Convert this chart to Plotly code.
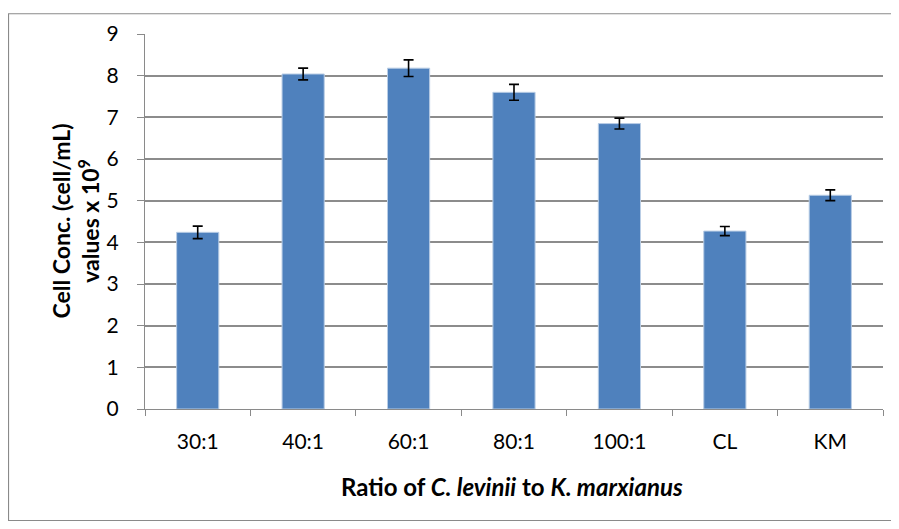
import plotly.graph_objects as go

categories = ["30:1", "40:1", "60:1", "80:1", "100:1", "CL", "KM"]
values = [4.24, 8.04, 8.18, 7.60, 6.85, 4.27, 5.13]
errors = [0.15, 0.14, 0.20, 0.19, 0.13, 0.11, 0.13]
y_ticks = list(range(0, 10))

FONT = "Lato, sans-serif"

L, T, PW, PH = 137, 21, 738, 380

fig = go.Figure()
fig.add_trace(go.Bar(
    x=categories, y=values,
    marker=dict(color="#4F81BD", line=dict(color="#B9CDE5", width=1)),
    width=0.4,
    error_y=dict(type="data", array=errors, visible=True, color="black", thickness=1.6, width=5),
))

fig.update_layout(
    width=891, height=521,
    paper_bgcolor="white", plot_bgcolor="white",
    margin=dict(l=L, r=16, t=T, b=120),
    showlegend=False,
    font=dict(family=FONT, size=21, color="black"),
    shapes=[dict(type="rect", xref="paper", yref="paper",
                 x0=-(L - 0.5) / PW, x1=1 + 9 / PW, y0=-113 / PH, y1=1 + 20.5 / PH,
                 line=dict(color="#8a8a8a", width=1.2))],
    annotations=[
        dict(text="<b>Ratio of <i>C. levinii</i> to <i>K. marxianus</i></b>",
             xref="paper", yref="paper", x=0.497, y=-79 / PH, xanchor="center", yanchor="middle",
             showarrow=False, font=dict(size=24, family=FONT)),
        dict(text="<b>Cell Conc. (cell/mL)<br>values x 10<sup>9</sup></b>",
             xref="paper", yref="paper", x=-70 / PW, y=0.5, xanchor="center", yanchor="middle",
             textangle=-90, showarrow=False, font=dict(size=23, family=FONT)),
    ],
)

fig.update_xaxes(
    type="category", showline=True, linecolor="#8a8a8a", linewidth=1.2,
    ticks="outside", tickson="boundaries", ticklen=6, tickcolor="#8a8a8a", tickwidth=1,
    tickfont=dict(size=21, family=FONT), showgrid=False, ticklabelstandoff=14,
)
fig.update_yaxes(
    range=[0, 9], tickvals=y_ticks, showline=True, linecolor="#8a8a8a", linewidth=1.2,
    ticks="outside", ticklen=7, tickcolor="#8a8a8a", tickwidth=1,
    showgrid=True, gridcolor="#8c8c8c", gridwidth=1.5, zeroline=False,
    tickfont=dict(size=21, family=FONT), ticklabelstandoff=14,
)

fig.write_html("out.html")
